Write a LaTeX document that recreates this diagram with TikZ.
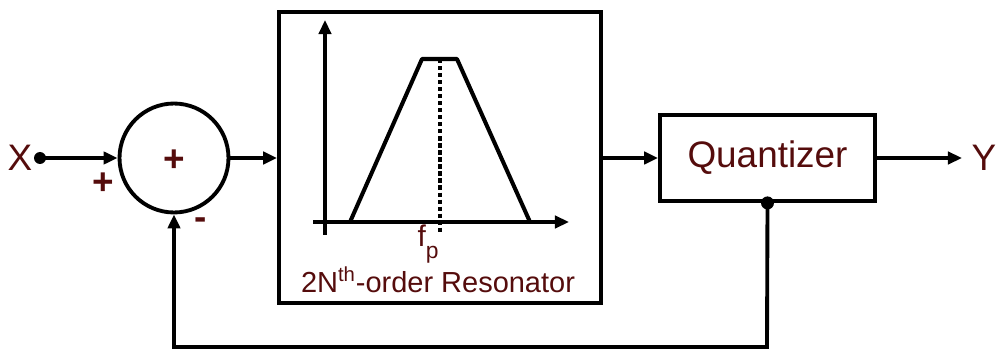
\documentclass[tikz,border=0pt]{standalone}
\usepackage{fontspec}
\setmainfont{Liberation Sans}
\usepackage{xcolor}
\usetikzlibrary{arrows.meta,positioning}
\definecolor{darkred}{RGB}{85,12,12}

\begin{document}
\begin{tikzpicture}[x=0.02cm,y=-0.02cm,line width=2.2pt,>={Triangle[length=8pt,width=7pt]},
blk/.style={draw,rectangle,inner sep=0pt},
lbl/.style={text=darkred,font=\fontsize{21}{21}\selectfont},
sgn/.style={text=darkred,font=\fontsize{21}{21}\selectfont\bfseries}]
\useasboundingbox (0,0) rectangle (1001,351);
% input and summer
\node[lbl] (X) at (20,158) {X};
\coordinate (xin) at (40,158);
\node[draw,circle,minimum size=2.18cm,inner sep=0pt] (sum) at (174,158) {};
\node[sgn] (plus) at (174,161) {+};
\node[sgn] (pin) at (103,184) {+};
\node[sgn] (min) at (201,224) {-};
\fill (xin) circle (0.12cm);
\draw[->] (xin)--(sum.west);
% resonator
\node[blk,minimum width=6.44cm,minimum height=5.82cm] (res) at (440,157.5) {};
\draw[->] (sum.east)--(res.west |- sum.east);
\draw[->,line width=2pt](325,235)--(325,20);
\draw[->,line width=2pt](313,222)--(569,222);
\draw[line width=2.3pt,line join=round](350,222)--(422,59)--(457,59)--(530,222);
\draw[line width=2.2pt,dash pattern=on 2.4pt off 1.6pt](440,59)--(440,234);
\node[text=darkred,font=\fontsize{17}{17}\selectfont] (fp) at (428,244) {f\raisebox{-0.4em}{\fontsize{13}{13}\selectfont p}};
\node[text=darkred,font=\fontsize{16.5}{16.5}\selectfont] (rname) at (438,280) {2N\textsuperscript{th}-order Resonator};
% quantizer
\node[blk,minimum width=4.3cm,minimum height=1.72cm,lbl] (quant) at (767.5,158) {Quantizer};
\draw[->] (res.east |- quant.west)--(quant.west);
\node[lbl] (Y) at (984,158) {Y};
\coordinate (yout) at (962,158);
\draw[->] (quant.east)--(yout);
% feedback
\fill (quant.south) circle (0.13cm);
\draw[->] (quant.south)--(767,347)-|(sum.south);
\end{tikzpicture}
\end{document}
